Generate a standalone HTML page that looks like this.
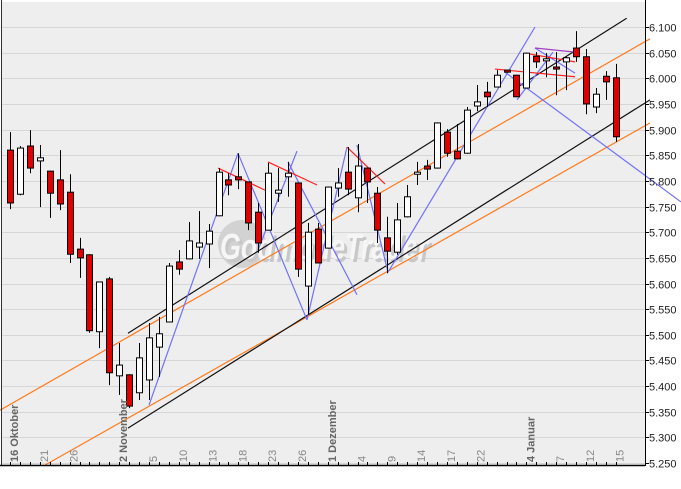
<!DOCTYPE html>
<html><head><meta charset="utf-8"><style>
html,body{margin:0;padding:0;background:#fff;}
svg{display:block;font-family:"Liberation Sans",sans-serif;}
</style></head><body>
<svg id="chart" width="681" height="489" viewBox="0 0 681 489" xmlns="http://www.w3.org/2000/svg">
<rect x="2" y="2" width="643" height="463" fill="#eeeeee"/>
<g id="grid"></g>
<g id="watermark">
  <circle cx="242" cy="244" r="24" fill="#d2d2d2"/>
  <text x="223" y="262" font-size="36" font-weight="bold" font-style="italic" textLength="208" lengthAdjust="spacingAndGlyphs" fill="#c8c8c8">GodmodeTrader</text>
  <text x="220" y="259" font-size="36" font-weight="bold" font-style="italic" textLength="208" lengthAdjust="spacingAndGlyphs" fill="#f6f6f6">GodmodeTrader</text>
</g>
<g id="lines"></g>
<g id="candles"></g>
<g id="axes"></g>
</svg>
<script>
const opens=[5.860,5.774,5.868,5.839,5.819,5.802,5.778,5.667,5.656,5.506,5.609,5.420,5.422,5.387,5.412,5.476,5.525,5.642,5.648,5.671,5.677,5.732,5.802,5.808,5.798,5.739,5.704,5.776,5.808,5.796,5.595,5.706,5.669,5.786,5.817,5.767,5.825,5.776,5.689,5.661,5.730,5.813,5.829,5.825,5.895,5.858,5.854,5.946,5.973,5.983,6.016,6.006,5.981,6.043,6.034,6.022,6.032,6.059,6.042,5.944,6.004,6.001];
const closes=[5.757,5.864,5.825,5.845,5.776,5.755,5.657,5.650,5.508,5.603,5.426,5.441,5.361,5.455,5.494,5.502,5.634,5.628,5.683,5.679,5.702,5.817,5.792,5.802,5.718,5.679,5.815,5.782,5.815,5.628,5.700,5.640,5.788,5.796,5.784,5.829,5.798,5.704,5.663,5.724,5.769,5.817,5.823,5.913,5.854,5.843,5.938,5.954,5.964,6.006,6.012,5.964,6.049,6.032,6.038,6.018,6.040,6.042,5.950,5.969,5.993,5.886];
const highs=[5.895,5.868,5.899,5.870,5.820,5.860,5.813,5.689,5.657,5.604,5.613,5.484,5.423,5.484,5.523,5.535,5.640,5.665,5.720,5.741,5.716,5.825,5.815,5.854,5.798,5.757,5.835,5.825,5.837,5.796,5.718,5.718,5.789,5.825,5.866,5.872,5.826,5.788,5.730,5.757,5.792,5.837,5.841,5.914,5.901,5.911,5.944,5.987,5.993,6.016,6.017,6.007,6.050,6.051,6.049,6.051,6.042,6.092,6.057,5.981,6.014,6.028];
const lows=[5.745,5.772,5.815,5.749,5.728,5.743,5.640,5.611,5.504,5.474,5.402,5.383,5.357,5.373,5.373,5.418,5.524,5.617,5.647,5.648,5.630,5.731,5.772,5.784,5.704,5.660,5.703,5.759,5.769,5.613,5.539,5.639,5.668,5.769,5.772,5.739,5.757,5.679,5.620,5.656,5.729,5.792,5.802,5.824,5.847,5.842,5.853,5.936,5.944,5.982,6.011,5.963,5.980,6.020,6.002,5.967,5.977,6.032,5.930,5.932,5.958,5.876];
const yTicks=[5.25,5.30,5.35,5.40,5.45,5.50,5.55,5.60,5.65,5.70,5.75,5.80,5.85,5.90,5.95,6.00,6.05,6.10];
const xLabelIdx=[0,3,6,11,14,17,20,23,26,29,32,35,38,41,44,47,52,55,58,61];
const xLabels=["16 Oktober","21","26","2 November","5","10","13","18","23","26","1 Dezember","4","9","14","17","22","4 Januar","7","12","15"];
const blackLines=[[11.88,5.503,62.1,6.117],[11.88,5.318,64.45,5.958]];
const orangeLines=[[-1.01,5.353,64.45,6.077],[3.52,5.246,64.45,5.913]];
const blueLines=[[14.0,5.363,22.96,5.854],[22.96,5.854,29.91,5.529],[24.97,5.665,28.90,5.858],[28.0,5.837,34.94,5.578],[29.91,5.529,33.94,5.866],[34.94,5.870,38.07,5.622],[38.07,5.622,52.87,6.100],[49.85,6.012,67.57,5.759],[51.06,5.958,54.68,6.051],[52.87,6.059,56.90,6.010]];
const redLines=[[20.95,5.825,25.68,5.782],[25.98,5.837,30.92,5.792],[33.94,5.866,37.76,5.794],[48.84,6.018,56.90,6.003],[51.86,6.049,56.90,6.032]];
const purpleLines=[[52.87,6.059,56.90,6.051]];

const NS="http://www.w3.org/2000/svg";
const X0=10,DX=9.93,PL=2,PR=645,PT=2,PB=465;
function xS(i){return X0+i*DX;}
function yS(p){return 27+(6.10-p)/0.05*25.65;}
function mk(tag,attrs,parent){const e=document.createElementNS(NS,tag);for(const k in attrs)e.setAttribute(k,attrs[k]);parent.appendChild(e);return e;}
const grid=document.getElementById('grid'),axes=document.getElementById('axes'),lines=document.getElementById('lines'),cg=document.getElementById('candles');

yTicks.forEach((t)=>{
  const y=Math.round(yS(t))+0.5;
  const g=mk('line',{x1:PL,x2:PR,y1:y,y2:y,stroke:'#d6d6d6','stroke-width':1},grid);
  
  
  const tk=mk('line',{x1:PR,x2:PR+4,y1:y,y2:y,stroke:'#000','stroke-width':1},axes);
  
  
  const tx=mk('text',{x:649,y:y+4,'font-size':11,fill:'#222'},axes);
  tx.textContent=t.toFixed(3);
  
  
});

function drawLines(arr,color,name){
  arr.forEach(l=>{
    const e=mk('line',{x1:xS(l[0]),y1:yS(l[1]),x2:xS(l[2]),y2:yS(l[3]),stroke:color,'stroke-width':1.2},lines);
    
    
  });
}
drawLines(orangeLines,'#ff7a1a','orange-channel-line');
drawLines(blackLines,'#111','black-channel-line');
drawLines(blueLines,'#7070ff','blue-trend-line');
drawLines(redLines,'#ff2020','red-trend-line');
drawLines(purpleLines,'#a040c0','purple-trend-line');

opens.forEach((o,i)=>{
  const c=closes[i],x=Math.round(xS(i))+0.5;
  const w=mk('line',{x1:x,x2:x,y1:yS(highs[i]),y2:yS(lows[i]),stroke:'#000','stroke-width':1},cg);
  
  
  const top=yS(Math.max(o,c)),bot=yS(Math.min(o,c));
  const b=mk('rect',{x:x-3,y:top,width:6,height:Math.max(1.5,bot-top),fill:c<o?'#e00000':'#ffffff',stroke:'#000','stroke-width':1},cg);
  
  
});

const f1=mk('line',{x1:1.5,x2:1.5,y1:0,y2:PB,stroke:'#333','stroke-width':1},axes);


const f2=mk('line',{x1:0,x2:PR,y1:PB+0.5,y2:PB+0.5,stroke:'#000','stroke-width':1.5},axes);


const f3=mk('line',{x1:PR+0.5,x2:PR+0.5,y1:0,y2:PB+1,stroke:'#000','stroke-width':1},axes);


for(let i=0;i<opens.length;i++){
  const x=Math.round(xS(i))+0.5;
  const t=mk('line',{x1:x,x2:x,y1:PB-3,y2:PB,stroke:'#000','stroke-width':1},axes);
  
  
}
xLabelIdx.forEach((idx,k)=>{
  const x=xS(idx)+8,y=462;
  const big=xLabels[k].length>2;
  const t=mk('text',{x:x,y:y,transform:'rotate(-90 '+x+' '+y+')','font-size':11,'font-weight':big?'bold':'normal',fill:big?'#666':'#888'},axes);
  t.textContent=xLabels[k];
  
  
});
</script>
</body></html>
